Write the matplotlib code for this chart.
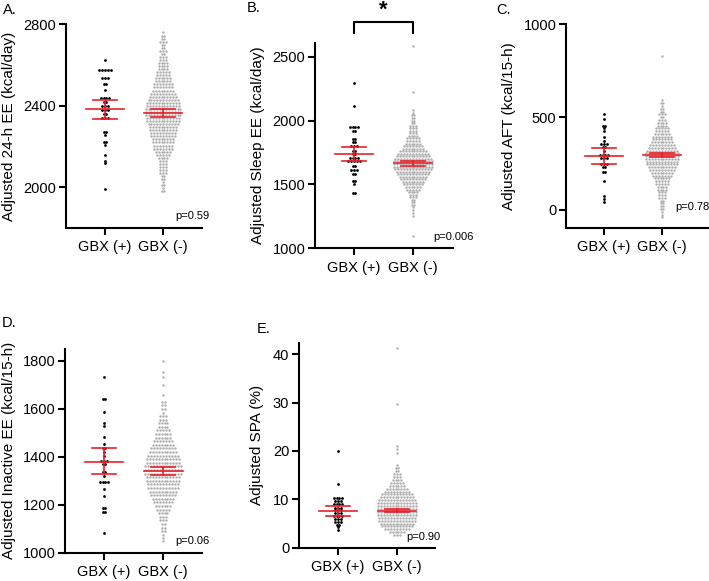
import matplotlib
matplotlib.use("Agg")
import matplotlib.pyplot as plt
import numpy as np

plt.rcParams['font.family'] = ['Liberation Sans', 'DejaVu Sans']

groups = ['GBX (+)', 'GBX (-)']

# ---- A. 24-h EE ----
a_pos = [2625, 2575, 2575, 2575, 2575, 2575, 2535, 2535, 2535, 2505, 2505, 2477,
         2440, 2440, 2440, 2440, 2420, 2420, 2400, 2400, 2400, 2380, 2380, 2380,
         2360, 2360, 2340, 2340, 2340, 2272, 2272, 2258, 2223, 2223, 2206, 2157,
         2130, 2117, 1990]
a_neg_lv = [2760, 2745, 2730, 2715, 2700, 2685, 2670, 2655, 2640, 2625, 2610, 2595,
            2580, 2565, 2550, 2535, 2520, 2505, 2490, 2475, 2460, 2445, 2430, 2415,
            2400, 2385, 2370, 2355, 2340, 2325, 2310, 2295, 2280, 2265, 2250, 2235,
            2220, 2205, 2190, 2175, 2160, 2145, 2130, 2115, 2100, 2085, 2070, 2055,
            2040, 2025, 2010, 1995, 1980]
a_neg_n = [1, 2, 2, 3, 2, 2, 3, 2, 3, 3, 4, 4, 4, 5, 5, 6, 6, 7, 7, 8, 9, 10, 11, 12,
           12, 13, 13, 13, 12, 12, 11, 10, 10, 9, 9, 8, 8, 7, 7, 6, 5, 4, 3, 3, 3, 3,
           3, 2, 2, 1, 2, 1, 2]
a_stats = [(2382, 2336, 2428), (2365, 2346, 2386)]

# ---- B. Sleep EE ----
b_pos = [2290, 2110, 1950, 1950, 1950, 1950, 1920, 1920, 1855, 1855, 1830, 1830,
         1800, 1800, 1800, 1765, 1765, 1735, 1735, 1705, 1705, 1705, 1705, 1680,
         1680, 1680, 1680, 1680, 1645, 1645, 1610, 1610, 1610, 1580, 1580, 1525,
         1525, 1500, 1430, 1430]
b_neg_lv = [2580, 2220, 2080, 2060, 2040, 2020, 2000, 1980, 1960, 1940, 1920, 1900,
            1880, 1860, 1840, 1820, 1800, 1780, 1760, 1740, 1720, 1700, 1680, 1660,
            1640, 1620, 1600, 1580, 1560, 1540, 1520, 1500, 1480, 1460, 1440, 1420,
            1400, 1380, 1360, 1340, 1320, 1300, 1280, 1250, 1100]
b_neg_n = [1, 1, 1, 1, 2, 2, 2, 2, 3, 3, 3, 3, 4, 5, 5, 6, 7, 8, 10, 11, 12, 13, 14,
           14, 14, 13, 12, 11, 10, 9, 8, 7, 6, 5, 4, 3, 3, 2, 2, 2, 1, 1, 1, 1, 1]
b_stats = [(1735, 1680, 1790), (1665, 1645, 1686)]

# ---- C. AFT ----
c_pos = [515, 488, 452, 452, 440, 425, 395, 372, 354, 354, 354, 340, 340, 320,
         296, 296, 296, 296, 280, 280, 280, 248, 248, 248, 233, 233, 206, 206,
         156, 77, 59, 43]
c_neg_lv = [830, 590, 575, 560, 545, 530, 515, 500, 485, 470, 455, 440, 425, 410,
            395, 380, 365, 350, 335, 320, 305, 290, 275, 260, 245, 230, 215, 200,
            185, 170, 155, 140, 125, 110, 95, 80, 65, 50, 35, 20, 5, -10, -25, -40]
c_neg_n = [1, 1, 2, 1, 2, 2, 3, 2, 3, 4, 4, 5, 5, 6, 7, 7, 8, 9, 10, 11, 12, 12, 12,
           11, 11, 10, 9, 8, 7, 6, 5, 5, 4, 4, 3, 3, 3, 2, 2, 2, 2, 1, 1, 1]
c_stats = [(292, 248, 335), (298, 287, 309)]

# ---- D. Inactive EE ----
d_pos = [1732, 1640, 1640, 1588, 1540, 1528, 1484, 1452, 1436, 1436, 1420, 1405,
         1383, 1383, 1383, 1370, 1370, 1338, 1338, 1320, 1296, 1296, 1296, 1296,
         1266, 1238, 1185, 1185, 1171, 1171, 1081]
d_neg_lv = [1800, 1755, 1735, 1700, 1660, 1630, 1615, 1600, 1585, 1570, 1555, 1540,
            1525, 1510, 1495, 1480, 1465, 1450, 1435, 1420, 1405, 1390, 1375, 1360,
            1345, 1330, 1315, 1300, 1285, 1270, 1255, 1240, 1225, 1210, 1195, 1180,
            1165, 1150, 1135, 1120, 1105, 1090, 1075, 1060, 1050]
d_neg_n = [1, 1, 1, 1, 1, 2, 2, 2, 1, 3, 3, 4, 4, 5, 6, 6, 7, 8, 9, 10, 11, 12, 12,
           13, 13, 13, 12, 12, 11, 11, 10, 9, 8, 7, 6, 5, 4, 3, 3, 2, 2, 2, 1, 1, 1]
d_stats = [(1380, 1328, 1437), (1341, 1324, 1356)]

# ---- E. SPA ----
e_pos = [20.0, 13.1, 10.3, 10.3, 10.3, 10.3, 9.6, 9.6, 9.6, 9.0, 9.0, 9.0, 9.0,
         8.3, 8.3, 8.3, 7.8, 7.8, 7.8, 7.2, 7.2, 7.2, 6.6, 6.6, 6.6, 6.6, 6.0,
         6.0, 6.0, 5.4, 5.4, 5.4, 4.7, 4.7, 4.3, 3.6]
e_neg_lv = [41.2, 29.6, 21.0, 20.4, 19.6, 17.0, 16.4, 15.8, 15.2, 14.6, 14.0, 13.4,
            12.8, 12.2, 11.6, 11.0, 10.4, 9.8, 9.2, 8.6, 8.0, 7.4, 6.8, 6.2, 5.6,
            5.0, 4.4, 3.8, 3.2, 2.6]
e_neg_n = [1, 1, 1, 1, 1, 1, 2, 2, 3, 3, 4, 5, 6, 8, 9, 11, 12, 13, 14, 14, 14, 14,
           14, 13, 13, 12, 11, 9, 6, 3]
e_stats = [(7.66, 6.6, 8.6), (7.66, 7.4, 7.9)]

W, H = 709, 581
RED = '#e8202a'
GRAY = '#adadad'
DX = 0.05


def rows(values, center):
    uniq, cnt = np.unique(np.asarray(values, float), return_counts=True)
    xs, ys = [], []
    for v, n in zip(uniq, cnt):
        xs.extend(center + (np.arange(n) - (n - 1) / 2) * DX)
        ys.extend([v] * n)
    return xs, ys


def panel(box, pos, neg_lv, neg_n, stats, ylim, yticks, xlim, ylabel, labx,
          ptxt, pxy, letter, lxy):
    l, r, t, b = box
    ax = fig.add_axes([l / W, 1 - b / H, (r - l) / W, (b - t) / H])
    x0, y0 = rows(pos, 0)
    ax.scatter(x0, y0, s=4, color='black', linewidths=0, zorder=2)
    x1, y1 = rows(np.repeat(neg_lv, neg_n), 1)
    ax.scatter(x1, y1, s=3, color=GRAY, linewidths=0, zorder=2)
    for i, (m, lo, hi) in enumerate(stats):
        ax.plot([i - 0.33, i + 0.33], [m, m], color=RED, lw=1.2, zorder=3)
        ax.plot([i - 0.2, i + 0.2], [lo, lo], color=RED, lw=1.2, zorder=3)
        ax.plot([i - 0.2, i + 0.2], [hi, hi], color=RED, lw=1.2, zorder=3)
        ax.plot([i, i], [lo, hi], color=RED, lw=1.2, zorder=3)
    ax.set_xlim(*xlim)
    ax.set_ylim(*ylim)
    ax.set_yticks(yticks)
    ax.set_xticks([0, 1])
    ax.set_xticklabels(groups)
    ax.set_ylabel(ylabel, fontsize=11)
    ax.yaxis.set_label_coords(labx, 0.5)
    for s in ['top', 'right']:
        ax.spines[s].set_visible(False)
    for s in ['left', 'bottom']:
        ax.spines[s].set_linewidth(1.5)
    ax.tick_params(labelsize=10.5, width=1.5, length=5, pad=2)
    ax.tick_params(axis='x', pad=4)
    ax.text(pxy[0], pxy[1], ptxt, fontsize=8, ha='center', va='center')
    fig.text(lxy[0] / W, 1 - lxy[1] / H, letter, fontsize=10.5, va='center')
    return ax


fig = plt.figure(figsize=(W / 100, H / 100), dpi=100)

panel((66, 202, 24.3, 228), a_pos, a_neg_lv, a_neg_n, a_stats, (1800, 2800),
      [2000, 2400, 2800], (-0.672, 1.672), 'Adjusted 24-h EE (kcal/day)', -0.37,
      'p=0.59', (1.5, 1857), 'A.', (3, 10))

axb = panel((315, 453, 43, 248.3), b_pos, b_neg_lv, b_neg_n, b_stats, (1000, 2607),
            [1000, 1500, 2000, 2500], (-0.661, 1.678), 'Adjusted Sleep EE (kcal/day)',
            -0.36, 'p=0.006', (1.69, 1088), 'B.', (247, 8))
axb.plot([0, 0, 1, 1], [2686, 2772, 2772, 2686], color='black', lw=1.5,
         clip_on=False)
axb.text(0.5, 2860, '*', fontsize=16, fontweight='bold', ha='center', va='center')

panel((566, 708, 24.3, 228), c_pos, c_neg_lv, c_neg_n, c_stats, (-97, 1000),
      [0, 500, 1000], (-0.655, 1.793), 'Adjusted AFT (kcal/15-h)', -0.355,
      'p=0.78', (1.52, 16), 'C.', (496, 10))

panel((65, 202, 349, 552.7), d_pos, d_neg_lv, d_neg_n, d_stats, (1000, 1850),
      [1000, 1200, 1400, 1600, 1800], (-0.661, 1.66), 'Adjusted Inactive EE (kcal/15-h)',
      -0.36, 'p=0.06', (1.5, 1049), 'D.', (2, 323))

panel((299, 435, 343, 547.7), e_pos, e_neg_lv, e_neg_n, e_stats, (0, 42.3),
      [0, 10, 20, 30, 40], (-0.661, 1.644), 'Adjusted SPA (%)', -0.26,
      'p=0.90', (1.44, 2.2), 'E.', (257, 329))

fig.savefig('out.png', dpi=100)
